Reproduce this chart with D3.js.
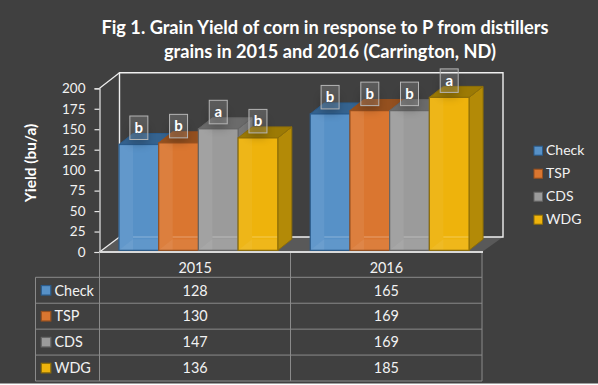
<!DOCTYPE html>
<html>
<head>
<meta charset="utf-8">
<script src="https://cdn.jsdelivr.net/npm/d3@7"></script>
<style>
  html, body { margin: 0; padding: 0; background: #fff; }
  svg { display: block; font-family: Lato, "Open Sans", sans-serif; }
</style>
</head>
<body>
<svg id="chart" width="598" height="385"></svg>
<script>
// values
const years = ["2015", "2016"];
const series = ["Check", "TSP", "CDS", "WDG"];
const values2015 = [128, 130, 147, 136];
const values2016 = [165, 169, 169, 185];
const letters2015 = ["b", "b", "a", "b"];
const letters2016 = ["b", "b", "b", "a"];
const yTicks = [0, 25, 50, 75, 100, 125, 150, 175, 200];
const titleLines = [
  "Fig 1. Grain Yield of corn in response to P from distillers",
  "grains in 2015 and 2016 (Carrington, ND)"
];

const valuesByYear = [values2015, values2016];
const lettersByYear = [letters2015, letters2016];

const front = ["#5791c7", "#da7630", "#9b9b9b", "#eeb30c"];
const edge = ["#2b5c8c", "#97501f", "#666666", "#8f6f08"];
const side = ["#3f6f9e", "#a85a22", "#787878", "#b38a07"];
const roof = ["#35638f", "#94501f", "#6b6b6b", "#9c7a05"];

const svg = d3.select("#chart");
const textColor = "#f2f2f2";
const depthX = 14, depthY = 11;

svg.append("rect").attr("width", 598).attr("height", 383.5).attr("fill", "#404040");

const defs = svg.append("defs");
defs.append("filter").attr("id", "soft").attr("x", "-50%").attr("y", "-50%")
  .attr("width", "200%").attr("height", "200%")
  .append("feGaussianBlur").attr("stdDeviation", 4);

// scales
const yAxisScale = d3.scaleLinear().domain([0, 200]).range([252, 88.3]);
const yBar = d3.scaleLinear().domain([0, 200]).range([250.3, 85]);
const xYear = d3.scaleBand().domain(years).range([99.5, 482]);
const xBar = d3.scaleBand().domain(series).range([19.5, 178.3]);
const colour = d3.scaleOrdinal().domain(series).range(front);

// title
svg.append("g").selectAll("text")
  .data(titleLines)
  .join("text")
  .attr("x", (d, i) => i == 0 ? 325 : 330)
  .attr("y", (d, i) => 34 + i * 24)
  .attr("text-anchor", "middle")
  .attr("font-size", 18.2)
  .attr("font-weight", 700)
  .attr("fill", "#fff")
  .text(d => d);

// floor and back wall
const wallLeft = 119.5, wallRight = 503, wallTop = 72.7, wallBottom = 237;
svg.append("polygon")
  .attr("points", [[99.5, 252], [wallLeft, wallBottom], [wallRight, wallBottom], [482, 252]].join(" "))
  .attr("fill", "#595959");
svg.append("polyline")
  .attr("points", [[wallLeft, wallBottom], [wallLeft, wallTop], [wallRight, wallTop], [wallRight, wallBottom], [wallLeft, wallBottom]].join(" "))
  .attr("fill", "none").attr("stroke", "#efefef").attr("stroke-width", 1.4);
svg.append("line")
  .attr("x1", 99.5).attr("y1", 88.3).attr("x2", wallLeft).attr("y2", wallTop)
  .attr("stroke", "#efefef").attr("stroke-width", 1.2);
svg.append("line")
  .attr("x1", 99.5).attr("y1", 252).attr("x2", wallLeft).attr("y2", wallBottom)
  .attr("stroke", "#efefef").attr("stroke-width", 1.2);

// bars
const bw = xBar.bandwidth();
years.forEach((year, yi) => {
  const g = svg.append("g").attr("transform", `translate(${xYear(year)},0)`);
  series.forEach((name, si) => {
    const v = valuesByYear[yi][si];
    const x = xBar(name), top = yBar(v), base = yBar(0);

    g.append("polygon")
      .attr("points", [[x + bw, top], [x + bw + depthX, top - depthY], [x + bw + depthX, base - depthY], [x + bw, base]].join(" "))
      .attr("fill", side[si]).attr("stroke", edge[si]).attr("stroke-width", 1);
    g.append("polygon")
      .attr("points", [[x, top], [x + depthX, top - depthY], [x + bw + depthX, top - depthY], [x + bw, top]].join(" "))
      .attr("fill", roof[si]).attr("stroke", edge[si]).attr("stroke-width", 1);
    g.append("rect")
      .attr("x", x).attr("y", top).attr("width", bw).attr("height", base - top)
      .attr("fill", colour(name));
    // translucent faces: inner side wall and the wall line showing through
    g.append("rect")
      .attr("x", x).attr("y", top).attr("width", depthX).attr("height", base - top)
      .attr("fill", "#fff").attr("opacity", si == 3 ? 0.05 : 0.07);
    g.append("line")
      .attr("x1", x + depthX).attr("x2", x + bw).attr("y1", 237).attr("y2", 237)
      .attr("stroke", "#fff").attr("stroke-width", 1.4).attr("opacity", 0.22);
    g.append("polygon")
      .attr("points", [[x, base], [x + depthX, base - depthY], [x + bw, base - depthY], [x + bw, base]].join(" "))
      .attr("fill", "#fff").attr("opacity", 0.06);
    g.append("rect")
      .attr("x", x).attr("y", top).attr("width", bw).attr("height", base - top)
      .attr("fill", "none").attr("stroke", edge[si]).attr("stroke-width", 1.2);
  });
});

// significance letters sit on top of everything
years.forEach((year, yi) => {
  const g = svg.append("g").attr("transform", `translate(${xYear(year)},0)`);
  series.forEach((name, si) => {
    const cx = xBar(name) + bw / 2;
    const boxBottom = yBar(valuesByYear[yi][si]) - 5;
    g.append("rect")
      .attr("x", cx - 9).attr("y", boxBottom - 13).attr("width", 18).attr("height", 18)
      .attr("fill", "#000").attr("opacity", 0.2).attr("filter", "url(#soft)");
    g.append("rect")
      .attr("x", cx - 9).attr("y", boxBottom - 23.5).attr("width", 18).attr("height", 23.5)
      .attr("fill", "#fff").attr("fill-opacity", 0.14)
      .attr("stroke", "#b5b5b5").attr("stroke-width", 1);
    g.append("text")
      .attr("x", cx).attr("y", boxBottom - 6.5)
      .attr("text-anchor", "middle")
      .attr("font-size", 15).attr("font-weight", 700)
      .attr("fill", "#fff")
      .text(lettersByYear[yi][si]);
  });
});

// y axis
const yAxis = svg.append("g")
  .attr("transform", "translate(99.5,0)")
  .call(d3.axisLeft(yAxisScale).tickValues(yTicks).tickSize(5).tickPadding(9));
yAxis.selectAll("path, line").attr("stroke", "#e6e6e6").attr("stroke-width", 1.2);
yAxis.selectAll("text").attr("fill", textColor).attr("font-size", 13.5)
  .attr("font-family", "Lato, sans-serif");

svg.append("text")
  .attr("transform", "translate(36,163) rotate(-90)")
  .attr("text-anchor", "middle")
  .attr("font-size", 15.4).attr("font-weight", 700)
  .attr("fill", "#fff")
  .text("Yield (bu/a)");

// legend
const legendY = d3.scalePoint().domain(series).range([150.7, 219.7]);
const legend = svg.append("g").selectAll("g").data(series).join("g")
  .attr("transform", d => `translate(534,${legendY(d)})`);
legend.append("rect")
  .attr("x", 0).attr("y", -4.5).attr("width", 8.5).attr("height", 9)
  .attr("fill", d => colour(d))
  .attr("stroke", (d, i) => edge[i]).attr("stroke-width", 1);
legend.append("text")
  .attr("x", 12).attr("y", 4.7)
  .attr("font-size", 14).attr("fill", textColor)
  .text(d => d);

// data table
const rowY = d3.scaleBand().domain(series).range([277.3, 381]);
const gridColor = "#8a8a8a";
const tableX = [99.5, 290.5, 482];
const table = svg.append("g");
tableX.forEach(x => {
  table.append("line").attr("x1", x).attr("x2", x).attr("y1", 252).attr("y2", 381)
    .attr("stroke", gridColor).attr("stroke-width", 1);
});
table.append("line").attr("x1", 35.5).attr("x2", 35.5).attr("y1", 277.3).attr("y2", 381)
  .attr("stroke", gridColor).attr("stroke-width", 1);
[...series.map(d => rowY(d)), 381].forEach(y => {
  table.append("line").attr("x1", 35.5).attr("x2", 482).attr("y1", y).attr("y2", y)
    .attr("stroke", gridColor).attr("stroke-width", 1);
});
table.append("line").attr("x1", 99.5).attr("x2", 483).attr("y1", 252).attr("y2", 252)
  .attr("stroke", "#d9d9d9").attr("stroke-width", 1.8);

years.forEach((year, yi) => {
  const cx = xYear(year) + xYear.bandwidth() / 2;
  table.append("text")
    .attr("x", cx).attr("y", 272.8)
    .attr("text-anchor", "middle").attr("font-size", 14.4).attr("fill", textColor)
    .text(year);
  series.forEach((name, si) => {
    table.append("text")
      .attr("x", cx).attr("y", rowY(name) + rowY.bandwidth() / 2 + 5.3)
      .attr("text-anchor", "middle").attr("font-size", 14.4).attr("fill", textColor)
      .text(valuesByYear[yi][si]);
  });
});
series.forEach((name, si) => {
  const cy = rowY(name) + rowY.bandwidth() / 2;
  table.append("rect")
    .attr("x", 41.3).attr("y", cy - 4.7).attr("width", 9.5).attr("height", 9.5)
    .attr("fill", colour(name)).attr("stroke", edge[si]).attr("stroke-width", 1.2);
  table.append("text")
    .attr("x", 54.5).attr("y", cy + 5.3)
    .attr("font-size", 14.4).attr("fill", textColor)
    .text(name);
});
</script>
</body>
</html>
